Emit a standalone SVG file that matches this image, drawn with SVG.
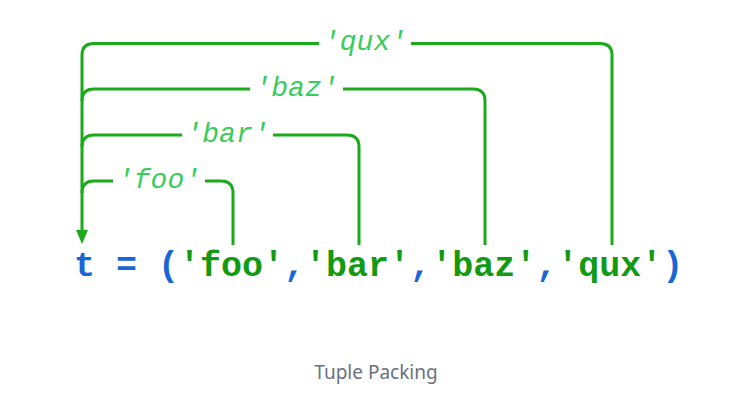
<svg xmlns="http://www.w3.org/2000/svg" width="743" height="404" viewBox="0 0 743 404">
<style>
.conn{fill:none;stroke:#1aaa1a;stroke-width:3;}
.lbl{font-family:"Liberation Mono",monospace;font-style:italic;font-size:28px;fill:#3acc5a;text-anchor:middle;}
.code{font-family:"Liberation Mono",monospace;font-weight:bold;font-size:35px;}
.b{fill:#1a66d6;}
.g{fill:#139a13;}
.cap{font-family:"Source Sans Pro","Noto Sans",sans-serif;font-size:19px;fill:#6b7280;text-anchor:middle;}
</style>
<defs>
<marker id="ah" markerWidth="12" markerHeight="14" refX="6" refY="13" orient="auto" markerUnits="userSpaceOnUse" viewBox="0 0 12 14">
<path d="M0,0 L12,0 L6,14 Z" fill="#1aaa1a"/>
</marker>
</defs>
<rect width="743" height="404" fill="#ffffff"/>
<g id="connectors">
<path class="conn" d="M612,245 V55 Q612,43.5 600,43.5 H411 M319,43.5 H94 Q82,43.5 82,55 V230"/>
<path class="conn" d="M485,245 V101 Q485,89 473,89 H343 M250,89 H94 Q82,89 82,101"/>
<path class="conn" d="M359,245 V147 Q359,135 347,135 H273 M182,135 H94 Q82,135 82,147"/>
<path class="conn" d="M233,245 V193 Q233,181 221,181 H205 M113,181 H94 Q82,181 82,193"/>
<path d="M76,230 L88,230 L82,244 Z" fill="#1aaa1a"/>
</g>
<g id="label-qux"><text class="lbl" x="365" y="50">'qux'</text></g>
<g id="label-baz"><text class="lbl" x="296.5" y="96">'baz'</text></g>
<g id="label-bar"><text class="lbl" x="227.5" y="142">'bar'</text></g>
<g id="label-foo"><text class="lbl" x="159" y="188">'foo'</text></g>
<g id="code"><text class="code" x="74" y="276"><tspan class="b">t = (</tspan><tspan class="g">'foo'</tspan><tspan class="b">,</tspan><tspan class="g">'bar'</tspan><tspan class="b">,</tspan><tspan class="g">'baz'</tspan><tspan class="b">,</tspan><tspan class="g">'qux'</tspan><tspan class="b">)</tspan></text></g>
<g id="caption"><text class="cap" x="376" y="379">Tuple Packing</text></g>
</svg>
